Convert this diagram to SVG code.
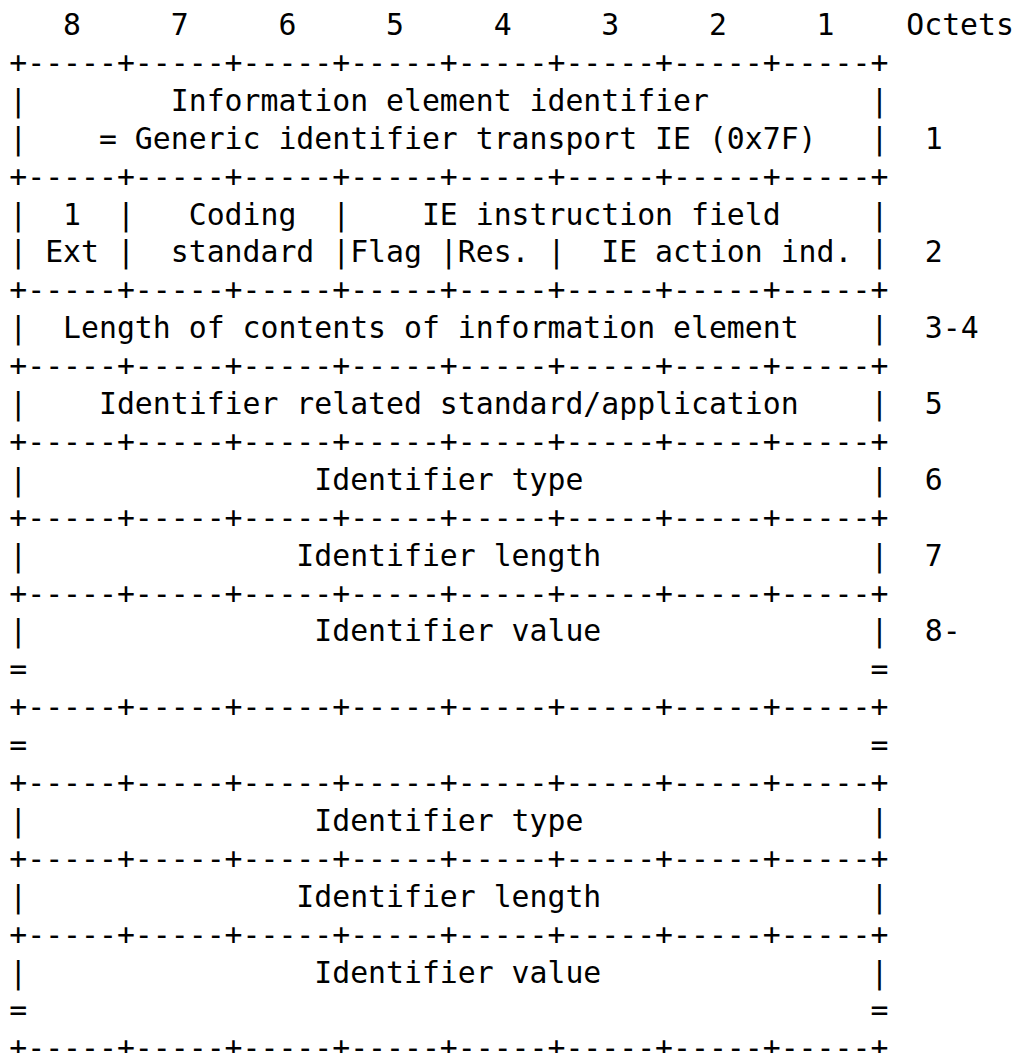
<svg xmlns="http://www.w3.org/2000/svg" width="1022" height="1053" viewBox="0 0 1022 1053" xml:space="preserve">
  <style>
    /* monospace grid: one column = 17.95px, one row = 37.9px */
    text { font-family: "DejaVu Sans Mono", "Liberation Mono", monospace; font-size: 29.81px; fill: #000; white-space: pre; }
  </style>
  <rect width="1022" height="1053" fill="#fff"/>

  <!-- bit numbers and octet column heading -->
  <g id="header">
    <text x="9.3" y="35">   8     7     6     5     4     3     2     1    Octets</text>
  </g>

  <!-- horizontal rules between the fields -->
  <g id="rules">
    <text x="9.3" y="72.9">+-----+-----+-----+-----+-----+-----+-----+-----+</text>
    <text x="9.3" y="186.6">+-----+-----+-----+-----+-----+-----+-----+-----+</text>
    <text x="9.3" y="300.3">+-----+-----+-----+-----+-----+-----+-----+-----+</text>
    <text x="9.3" y="376.1">+-----+-----+-----+-----+-----+-----+-----+-----+</text>
    <text x="9.3" y="451.9">+-----+-----+-----+-----+-----+-----+-----+-----+</text>
    <text x="9.3" y="527.7">+-----+-----+-----+-----+-----+-----+-----+-----+</text>
    <text x="9.3" y="603.5">+-----+-----+-----+-----+-----+-----+-----+-----+</text>
    <text x="9.3" y="717.2">+-----+-----+-----+-----+-----+-----+-----+-----+</text>
    <text x="9.3" y="793">+-----+-----+-----+-----+-----+-----+-----+-----+</text>
    <text x="9.3" y="868.8">+-----+-----+-----+-----+-----+-----+-----+-----+</text>
    <text x="9.3" y="944.6">+-----+-----+-----+-----+-----+-----+-----+-----+</text>
    <text x="9.3" y="1058.3">+-----+-----+-----+-----+-----+-----+-----+-----+</text>
  </g>

  <!-- octet 1 -->
  <g id="ie-identifier">
    <text x="9.3" y="110.8">|        Information element identifier         |</text>
    <text x="9.3" y="148.7">|    = Generic identifier transport IE (0x7F)   |</text>
    <text x="924.8" y="148.7">1</text>
  </g>

  <!-- octet 2 -->
  <g id="coding-and-instruction">
    <text x="9.3" y="224.5">|  1  |   Coding  |    IE instruction field     |</text>
    <text x="9.3" y="262.4">| Ext |  standard |Flag |Res. |  IE action ind. |</text>
    <text x="924.8" y="262.4">2</text>
  </g>

  <!-- octets 3-4 -->
  <g id="length">
    <text x="9.3" y="338.2">|  Length of contents of information element    |</text>
    <text x="924.8" y="338.2">3-4</text>
  </g>

  <!-- octet 5 -->
  <g id="related-standard">
    <text x="9.3" y="414">|    Identifier related standard/application    |</text>
    <text x="924.8" y="414">5</text>
  </g>

  <!-- octet 6 -->
  <g id="identifier-type-1">
    <text x="9.3" y="489.8">|                Identifier type                |</text>
    <text x="924.8" y="489.8">6</text>
  </g>

  <!-- octet 7 -->
  <g id="identifier-length-1">
    <text x="9.3" y="565.6">|               Identifier length               |</text>
    <text x="924.8" y="565.6">7</text>
  </g>

  <!-- octet 8 onwards -->
  <g id="identifier-value-1">
    <text x="9.3" y="641.4">|                Identifier value               |</text>
    <text x="9.3" y="679.3">=                                               =</text>
    <text x="924.8" y="641.4">8-</text>
  </g>

  <!-- elided repetition -->
  <g id="continuation">
    <text x="9.3" y="755.1">=                                               =</text>
  </g>

  <g id="identifier-type-n">
    <text x="9.3" y="830.9">|                Identifier type                |</text>
  </g>

  <g id="identifier-length-n">
    <text x="9.3" y="906.7">|               Identifier length               |</text>
  </g>

  <g id="identifier-value-n">
    <text x="9.3" y="982.5">|                Identifier value               |</text>
    <text x="9.3" y="1020.4">=                                               =</text>
  </g>
</svg>
